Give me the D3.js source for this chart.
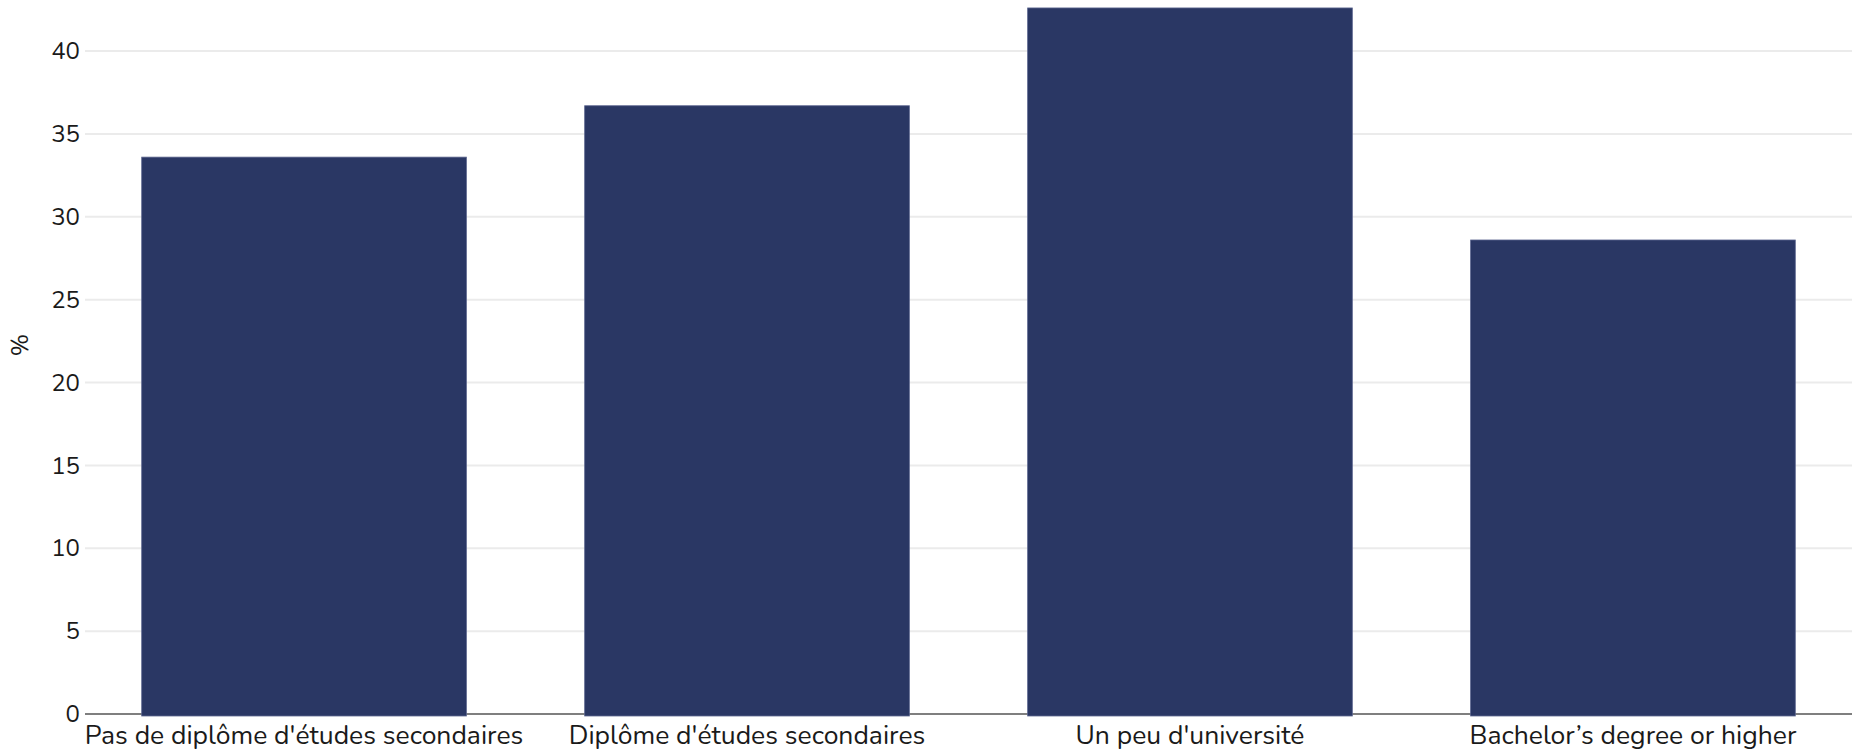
<!DOCTYPE html>
<html>
<head>
<meta charset="utf-8">
<script src="https://cdn.jsdelivr.net/npm/d3@7"></script>
<style>
  html, body { margin: 0; padding: 0; background: #fff; }
  svg { display: block; }
  text { font-family: "Nunito", Lato, "Noto Sans", sans-serif; fill: #1a1a1a; }
</style>
</head>
<body>
<svg id="chart" width="1852" height="753"></svg>
<script>
const categories = [
  "Pas de diplôme d'études secondaires",
  "Diplôme d'études secondaires",
  "Un peu d'université",
  "Bachelor’s degree or higher"
];
const values = [33.6, 36.7, 42.6, 28.6];
const yTicks = [0, 5, 10, 15, 20, 25, 30, 35, 40];
const yTitle = "%";

const W = 1852, H = 753;
const margin = { top: 0, right: 0, bottom: 39, left: 85 };
const svg = d3.select("#chart");

const x = d3.scaleBand()
  .domain(categories)
  .range([margin.left, W - margin.right])
  .paddingInner(0.267)
  .paddingOuter(0.128);

const y = d3.scaleLinear()
  .domain([0, 43.08])
  .range([H - margin.bottom, margin.top]);

// gridlines
svg.append("g")
  .selectAll("line")
  .data(yTicks.filter(d => d > 0))
  .join("line")
  .attr("x1", margin.left)
  .attr("x2", W - margin.right)
  .attr("y1", d => y(d))
  .attr("y2", d => y(d))
  .attr("stroke", "#ebebeb")
  .attr("stroke-width", 2);

// y axis labels
const yAxis = d3.axisLeft(y).tickValues(yTicks).tickSize(0).tickPadding(5);
const gy = svg.append("g")
  .attr("transform", `translate(${margin.left},0)`)
  .call(yAxis);
gy.select(".domain").remove();
gy.selectAll("text")
  .style("font-size", "24px")
  .style("font-family", "Nunito, Lato, 'Noto Sans', sans-serif")
  .attr("fill", "#1a1a1a");

// x axis baseline
svg.append("line")
  .attr("x1", margin.left)
  .attr("x2", W - margin.right)
  .attr("y1", y(0))
  .attr("y2", y(0))
  .attr("stroke", "#555")
  .attr("stroke-width", 1.5);

// bars
svg.append("g")
  .selectAll("rect")
  .data(values)
  .join("rect")
  .attr("x", (d, i) => x(categories[i]))
  .attr("width", x.bandwidth())
  .attr("y", d => y(d))
  .attr("height", d => y(0) - y(d) + 2)
  .attr("fill", "#2a3764")
  .attr("stroke", "#5c668f")
  .attr("stroke-width", 0.8);

// x axis labels
const xAxis = d3.axisBottom(x).tickSize(0).tickPadding(11);
const gx = svg.append("g")
  .attr("transform", `translate(0,${y(0)})`)
  .call(xAxis);
gx.select(".domain").remove();
gx.selectAll("text")
  .style("font-size", "26.5px")
  .style("font-family", "Nunito, Lato, 'Noto Sans', sans-serif")
  .attr("fill", "#1a1a1a");

// y title
svg.append("text")
  .attr("transform", `translate(28,${(y(0) + y(43.08)) / 2 - 12}) rotate(-90)`)
  .attr("text-anchor", "middle")
  .style("font-size", "24px")
  .text(yTitle);
</script>
</body>
</html>
